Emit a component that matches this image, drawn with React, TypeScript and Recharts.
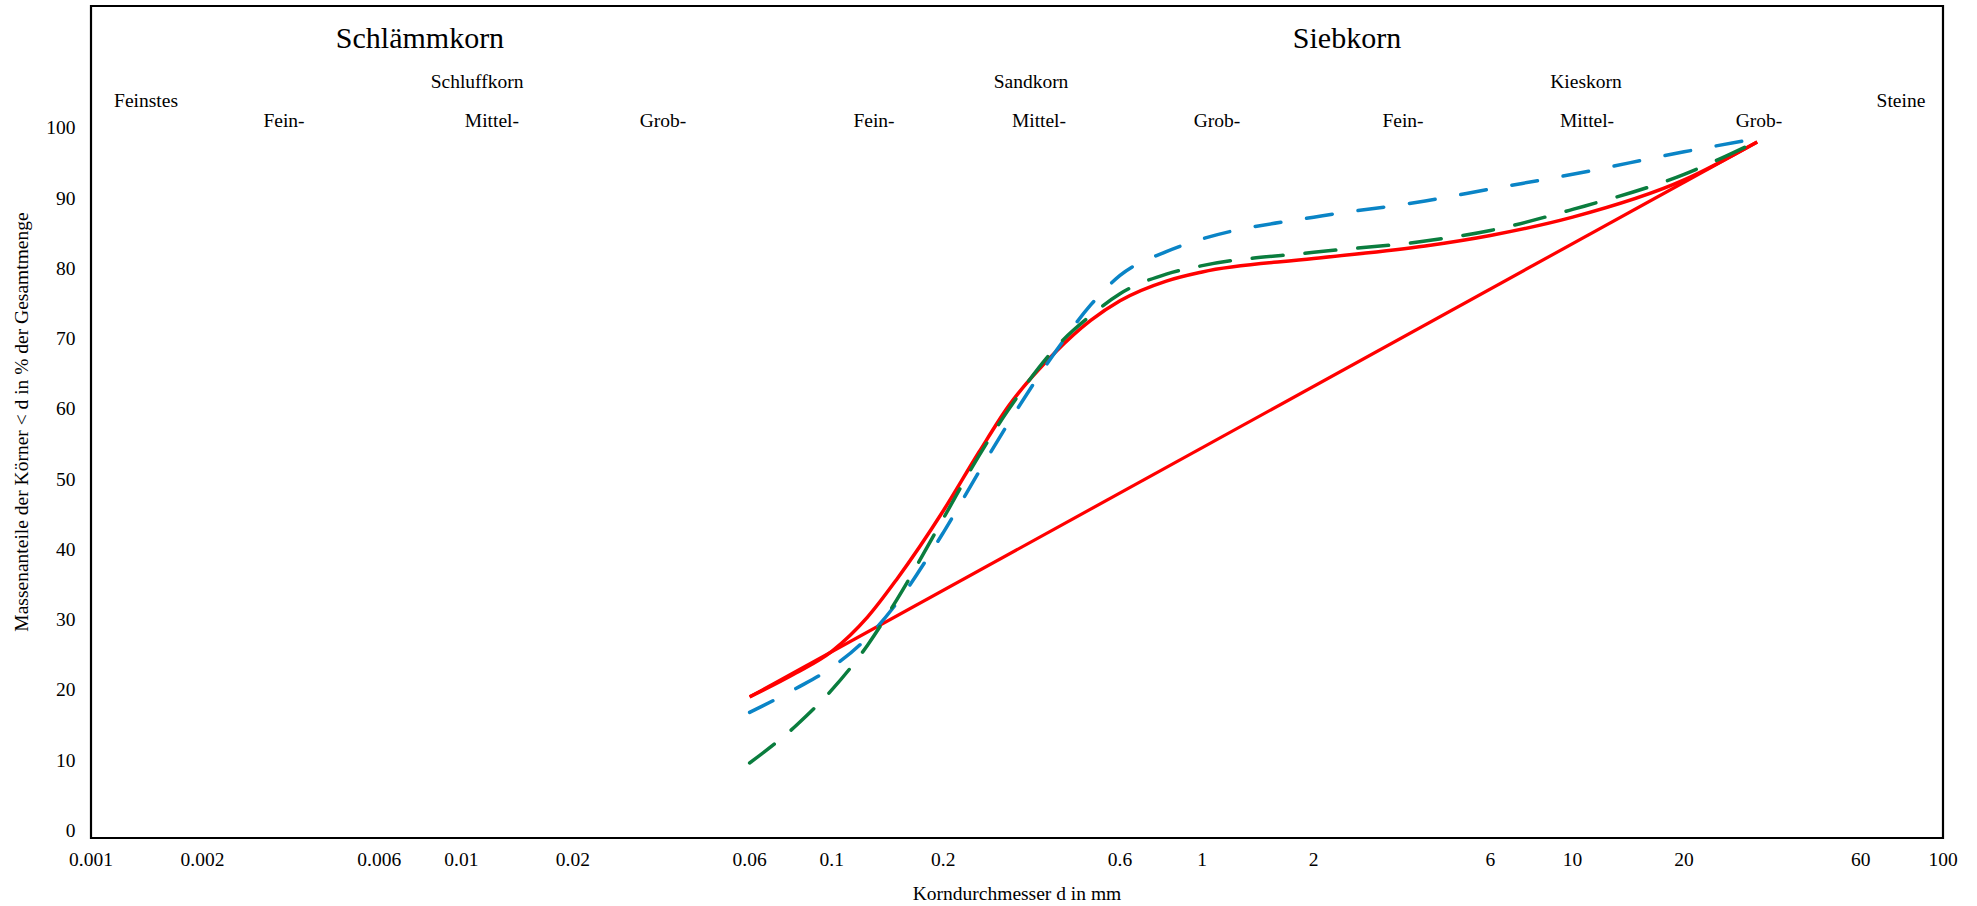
import { Label, Line, LineChart, ReferenceArea, ReferenceDot, XAxis, YAxis } from "recharts";

const FONT = '"Liberation Serif", "Times New Roman", serif';

// grain diameters (mm) where the curves are read
const sieveSizes = [0.06, 0.08, 0.1, 0.125, 0.15, 0.2, 0.25, 0.3, 0.4, 0.5, 0.6, 0.8, 1, 2, 4, 6, 10, 20, 31.5];
const redPassing = [19.0, 22.4, 25.5, 30.4, 35.8, 45.5, 53.9, 60.4, 68.0, 72.6, 75.4, 78.2, 79.5, 81.4, 83.2, 84.7, 87.3, 92.6, 98.0];
const greenPassing = [9.6, 14.9, 20.0, 26.4, 32.9, 44.4, 53.4, 59.9, 68.6, 73.3, 76.4, 79.2, 80.4, 82.3, 83.9, 85.4, 88.4, 93.4, 98.1];
const bluePassing = [16.8, 20.2, 23.2, 27.5, 32.4, 42.4, 51.1, 58.0, 68.0, 74.8, 79.0, 82.4, 84.2, 87.3, 89.6, 91.3, 93.4, 96.6, 98.5];

// straight reference line
const lineSizes = [0.06, 31.5];
const linePassing = [19, 98];

const xTicks = [0.001, 0.002, 0.006, 0.01, 0.02, 0.06, 0.1, 0.2, 0.6, 1, 2, 6, 10, 20, 60, 100];
const yTicks = [0, 10, 20, 30, 40, 50, 60, 70, 80, 90, 100];

// soil class headings, placed in data coordinates
const mainClasses = [
  { text: "Schlämmkorn", d: 0.00773, v: 112.95 },
  { text: "Siebkorn", d: 2.46, v: 112.95 },
];
const groupClasses = [
  { text: "Schluffkorn", d: 0.01102, v: 106.7 },
  { text: "Sandkorn", d: 0.345, v: 106.7 },
  { text: "Kieskorn", d: 10.87, v: 106.7 },
  { text: "Feinstes", d: 0.001408, v: 103.98 },
  { text: "Steine", d: 77.0, v: 103.98 },
];
const subClasses = [
  { text: "Fein-", d: 0.00332 },
  { text: "Mittel-", d: 0.01209 },
  { text: "Grob-", d: 0.035 },
  { text: "Fein-", d: 0.13 },
  { text: "Mittel-", d: 0.3625 },
  { text: "Grob-", d: 1.096 },
  { text: "Fein-", d: 3.484 },
  { text: "Mittel-", d: 10.94 },
  { text: "Grob-", d: 31.86 },
];
const subClassLevel = 101.14;

const Y_MIN = -1.08;
const Y_MAX = 117.36;

const toSeries = (sizes: number[], values: number[]) => sizes.map((d, i) => ({ d, v: values[i] }));

function XTick(props: any) {
  const { x, y, payload } = props;
  return (
    <text x={x} y={y + 21} textAnchor="middle" dominantBaseline="central" fontFamily={FONT} fontSize={19.5} fill="#000">
      {String(payload.value)}
    </text>
  );
}

function YTick(props: any) {
  const { x, y, payload } = props;
  return (
    <text x={x - 15.5} y={y} textAnchor="end" dominantBaseline="central" fontFamily={FONT} fontSize={19.5} fill="#000">
      {payload.value}
    </text>
  );
}

function textMark(key: string, text: string, d: number, v: number, size: number) {
  return (
    <ReferenceDot key={key} x={d} y={v} r={1} fill="none" stroke="none">
      <Label value={text} position="center" style={{ fontFamily: FONT, fontSize: size, fill: "#000" }} />
    </ReferenceDot>
  );
}

export default function App() {
  const red = toSeries(sieveSizes, redPassing);
  const green = toSeries(sieveSizes, greenPassing);
  const blue = toSeries(sieveSizes, bluePassing);
  const straight = toSeries(lineSizes, linePassing);

  return (
    <div style={{ position: "absolute", left: 0, top: 0, background: "#fff" }}>
      <LineChart width={1977} height={906} margin={{ top: 6, right: 34, bottom: 0, left: 0 }}>
        <XAxis
          type="number"
          dataKey="d"
          scale="log"
          domain={[0.001, 100]}
          ticks={xTicks}
          interval={0}
          allowDataOverflow
          axisLine={false}
          tickLine={false}
          tickSize={0}
          tickMargin={0}
          height={68}
          tick={XTick}
        >
          <Label
            value="Korndurchmesser d in mm"
            position="insideBottom"
            offset={6}
            style={{ fontFamily: FONT, fontSize: 19.5, fill: "#000" }}
          />
        </XAxis>
        <YAxis
          type="number"
          domain={[Y_MIN, Y_MAX]}
          ticks={yTicks}
          interval={0}
          allowDataOverflow
          axisLine={false}
          tickLine={false}
          tickSize={0}
          tickMargin={0}
          width={91}
          tick={YTick}
        >
          <Label
            value="Massenanteile der Körner < d in % der Gesamtmenge"
            angle={-90}
            position="insideLeft"
            offset={21}
            style={{ fontFamily: FONT, fontSize: 19.5, fill: "#000", textAnchor: "middle" }}
          />
        </YAxis>

        <ReferenceArea
          x1={0.001}
          x2={100}
          y1={Y_MIN}
          y2={Y_MAX}
          fill="none"
          fillOpacity={0}
          stroke="#000"
          strokeWidth={2.2}
          ifOverflow="visible"
        />

        {mainClasses.map((c, i) => textMark(`m${i}`, c.text, c.d, c.v, 30))}
        {groupClasses.map((c, i) => textMark(`g${i}`, c.text, c.d, c.v, 19.5))}
        {subClasses.map((c, i) => textMark(`s${i}`, c.text, c.d, subClassLevel, 19.5))}

        <Line
          data={straight}
          dataKey="v"
          type="linear"
          stroke="#FF0000"
          strokeWidth={3.2}
          dot={false}
          activeDot={false}
          isAnimationActive={false}
        />
        <Line
          data={red}
          dataKey="v"
          type="monotone"
          stroke="#FF0000"
          strokeWidth={3.5}
          dot={false}
          activeDot={false}
          isAnimationActive={false}
        />
        <Line
          data={blue}
          dataKey="v"
          type="monotone"
          stroke="#0A84C6"
          strokeWidth={3.5}
          strokeDasharray="26 26"
          strokeLinecap="round"
          dot={false}
          activeDot={false}
          isAnimationActive={false}
        />
        <Line
          data={green}
          dataKey="v"
          type="monotone"
          stroke="#0A7D3E"
          strokeWidth={3.5}
          strokeDasharray="31 22"
          strokeLinecap="round"
          dot={false}
          activeDot={false}
          isAnimationActive={false}
        />
      </LineChart>
    </div>
  );
}
